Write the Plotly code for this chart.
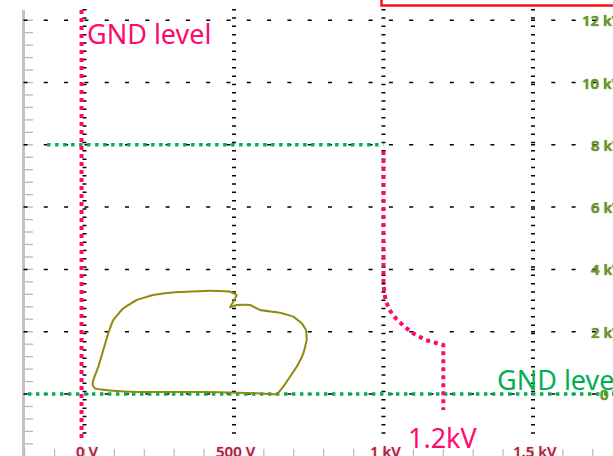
import numpy as np
import plotly.graph_objects as go

# ---- data (volts on x, kilovolts on y) ----
# X-Y trace of the measured waveform
trace_v = [27.4, 35.1, 96.3, 174.6, 286.0, 396.3, 509.0, 575.9, 642.8, 664.9, 687.3, 709.7,
           731.8, 743.1, 740.8, 726.4, 698.3, 653.8, 587.0, 575.9, 553.5, 509.0, 486.6, 497.7,
           509.0, 486.6, 419.7, 341.8, 286.0, 230.1, 174.6, 129.8, 96.3, 79.6, 62.9, 46.2,
           29.4, 27.4]
trace_kv = [0.289, 0.183, 0.106, 0.064, 0.064, 0.064, 0.042, 0.022, 0.0, 0.234, 0.555, 0.876,
            1.306, 1.734, 2.055, 2.270, 2.482, 2.610, 2.697, 2.751, 2.857, 2.857, 2.783, 2.963,
            3.178, 3.284, 3.316, 3.284, 3.252, 3.178, 3.018, 2.751, 2.376, 1.949, 1.413, 0.876,
            0.449, 0.289]

# marker line: 1.2 kV reference
ref12_v = [1000, 1000, 1006.7, 1020, 1040, 1068, 1102, 1142, 1200, 1200]
ref12_kv = [7.8, 3.50, 3.02, 2.70, 2.44, 2.18, 1.93, 1.73, 1.57, -0.51]

# ground level (x channel)
gnd_x_v = [-10, -10]
gnd_x_kv = [12.33, -1.48]

# ground level (y channel) and 8 kV level
gnd_y_v = [-189, 1768]
gnd_y_kv = [0, 0]
lvl8_v = [-125, 1000]
lvl8_kv = [8.0, 8.0]

# grid / tick labels
x_grid_v = [0, 500, 1000, 1500]
x_tick_labels = ["0 V", "500 V", "1 kV", "1.5 kV"]
y_grid_kv = [0, 2, 4, 6, 8, 10, 12]
y_tick_labels = ["0 V", "2 kV", "4 kV", "6 kV", "8 kV", "10 kV", "12 kV"]

X_RANGE = [-282.6, 1767.6]
Y_RANGE = [-1.990, 12.649]

W, H = 613, 456
MAGENTA = "#ff0a6c"
GREEN = "#00b050"


def px_x(p):
    return X_RANGE[0] + p / W * (X_RANGE[1] - X_RANGE[0])


def px_y(p):
    return Y_RANGE[1] - p / H * (Y_RANGE[1] - Y_RANGE[0])


fig = go.Figure()

shapes = []
# left axis rail
shapes.append(dict(type="line", xref="paper", yref="paper", x0=23.5 / W, x1=23.5 / W,
                   y0=1 - 10 / H, y1=0, line=dict(color="#c4c4c4", width=3), layer="below"))
# left minor ticks (every 0.4 kV)
for k in np.arange(12.0, -2.0, -0.4):
    shapes.append(dict(type="line", xref="paper", yref="y", x0=25 / W, x1=33 / W, y0=k, y1=k,
                       line=dict(color="#b8b8b8", width=1.3), layer="below"))
# bottom minor ticks (every 100 V)
for v in np.arange(-200, 1800, 100):
    shapes.append(dict(type="line", xref="x", yref="paper", x0=v, x1=v, y0=0, y1=7 / H,
                       line=dict(color="#b8b8b8", width=1.2), layer="below"))
# horizontal dashed grid lines
for k in y_grid_kv:
    shapes.append(dict(type="line", xref="x", yref="y", x0=px_x(23.5), x1=px_x(600), y0=k, y1=k,
                       line=dict(color="black", width=1.5, dash="4px,16.3px"), layer="below"))
# vertical grid lines made of short horizontal ticks
for v in x_grid_v:
    shapes.append(dict(type="line", xref="x", yref="y", x0=v, x1=v, y0=px_y(9), y1=px_y(440),
                       line=dict(color="black", width=4, dash="1.5px,6.8px"), layer="below"))
# red frame at the top
shapes.append(dict(type="rect", xref="paper", yref="paper", x0=381.5 / W, x1=1.05,
                   y0=1 - 5.5 / H, y1=1.05, line=dict(color="#ff1010", width=2.5),
                   fillcolor="rgba(0,0,0,0)"))

# level lines
fig.add_trace(go.Scatter(x=gnd_y_v, y=gnd_y_kv, mode="lines",
                         line=dict(color=GREEN, width=3.4, dash="3.4px,4.6px")))
fig.add_trace(go.Scatter(x=lvl8_v, y=lvl8_kv, mode="lines",
                         line=dict(color=GREEN, width=3.4, dash="3.4px,4.6px")))
fig.add_trace(go.Scatter(x=gnd_x_v, y=gnd_x_kv, mode="lines",
                         line=dict(color=MAGENTA, width=4, dash="4px,4px")))
fig.add_trace(go.Scatter(x=ref12_v, y=ref12_kv, mode="lines",
                         line=dict(color=MAGENTA, width=4, dash="4px,4px")))
# measured X-Y trace
fig.add_trace(go.Scatter(x=trace_v, y=trace_kv, mode="lines",
                         line=dict(color="#8f8a0c", width=2, shape="spline", smoothing=0.3)))

annotations = []
for v, lab in zip(x_grid_v, x_tick_labels):
    annotations.append(dict(x=v + 8, y=1 - 451 / H, xref="x", yref="paper", text=lab,
                            showarrow=False, xanchor="center", yanchor="middle",
                            font=dict(family="Noto Sans", size=15, color="#a8223f",
                                      weight=600, shadow="0px 0px 2px #ffb0c0")))
for k, lab in zip(y_grid_kv, y_tick_labels):
    annotations.append(dict(x=624 / W, y=k, xref="paper", yref="y", text=lab,
                            showarrow=False, xanchor="right", yanchor="middle",
                            font=dict(family="Noto Sans", size=15, color="#6a9e22",
                                      weight=600, shadow="0px 0px 1px #3a5a10")))
annotations.append(dict(x=85 / W, y=1 - 33 / H, xref="paper", yref="paper", text="GND level",
                        showarrow=False, xanchor="left", yanchor="middle",
                        font=dict(family="Noto Sans", size=27, color=MAGENTA)))
annotations.append(dict(x=495 / W, y=1 - 379 / H, xref="paper", yref="paper", text="GND level",
                        showarrow=False, xanchor="left", yanchor="middle",
                        font=dict(family="Noto Sans", size=27, color=GREEN)))
annotations.append(dict(x=406 / W, y=1 - 437 / H, xref="paper", yref="paper", text="1.2kV",
                        showarrow=False, xanchor="left", yanchor="middle",
                        font=dict(family="Noto Sans", size=27, color=MAGENTA)))

fig.update_layout(
    width=W, height=H,
    margin=dict(l=0, r=0, t=0, b=0),
    paper_bgcolor="white", plot_bgcolor="white",
    showlegend=False,
    xaxis=dict(range=X_RANGE, visible=False, fixedrange=True),
    yaxis=dict(range=Y_RANGE, visible=False, fixedrange=True),
    shapes=shapes,
    annotations=annotations,
)

fig.write_html("out.html", config={"displayModeBar": False})
